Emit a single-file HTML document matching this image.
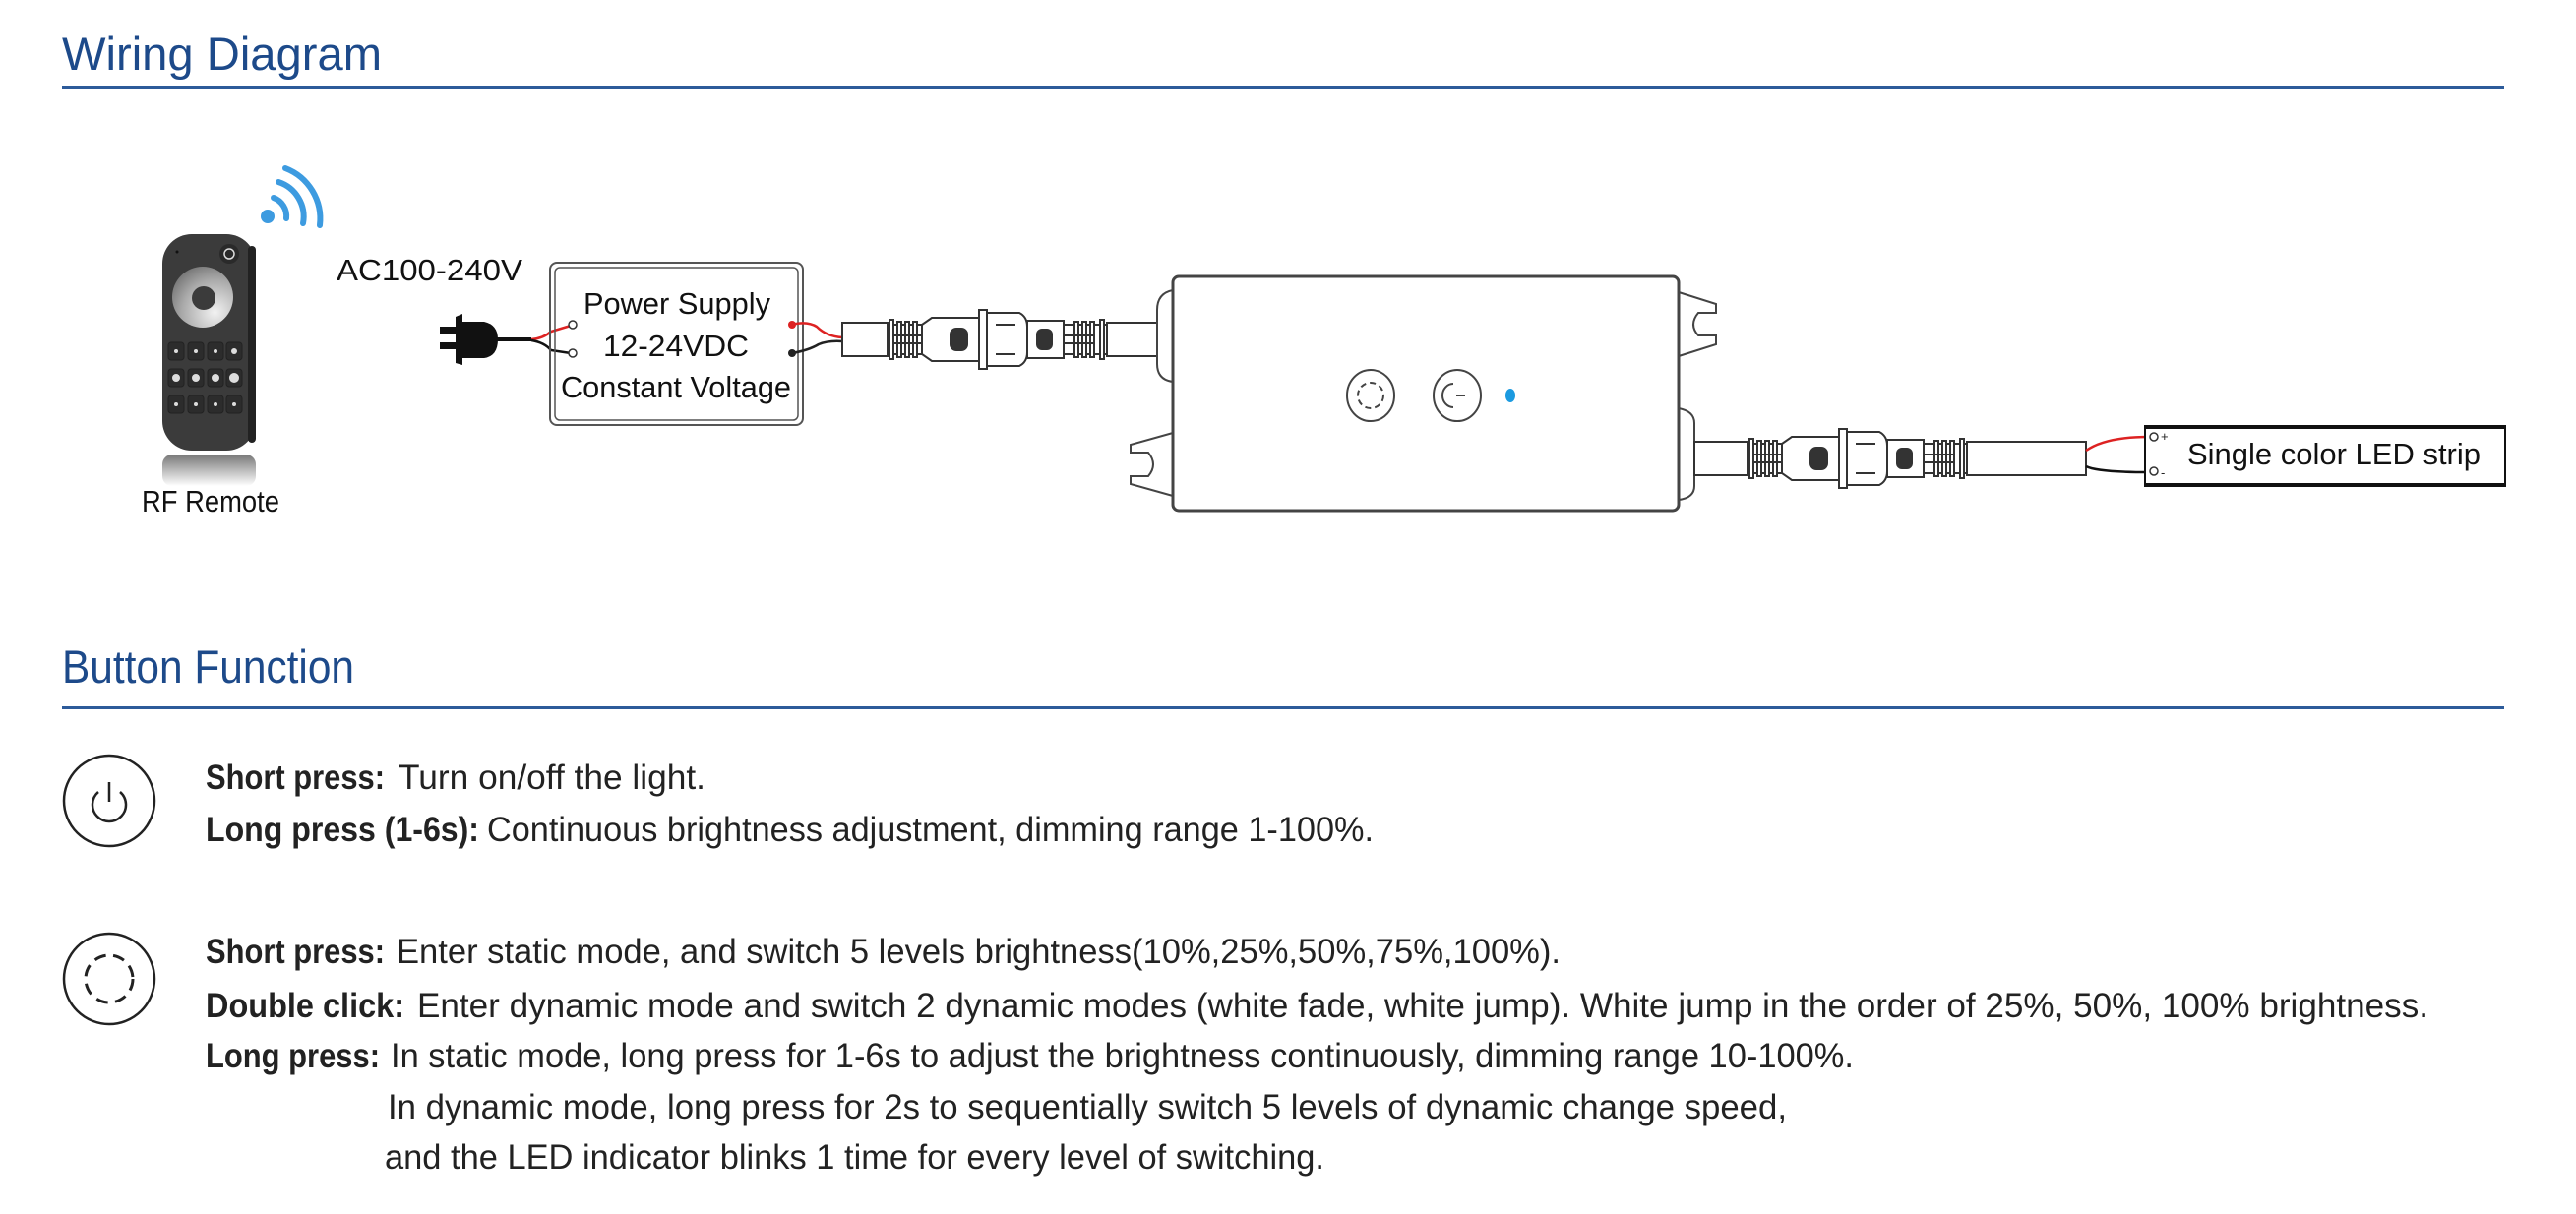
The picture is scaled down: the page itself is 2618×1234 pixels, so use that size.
<!DOCTYPE html>
<html><head><meta charset="utf-8"><style>
html,body{margin:0;padding:0;background:#fff}
svg{display:block}
text{font-family:"Liberation Sans",sans-serif}
</style></head><body>
<svg width="2618" height="1234" viewBox="0 0 2618 1234" xmlns="http://www.w3.org/2000/svg">
<defs>
<radialGradient id="wh" cx="0.7" cy="0.75" r="0.9">
<stop offset="0" stop-color="#f2f2f2"/><stop offset="0.6" stop-color="#a9a9a9"/><stop offset="1" stop-color="#6a6a6a"/>
</radialGradient>
<linearGradient id="refl" x1="0" y1="0" x2="0" y2="1">
<stop offset="0" stop-color="#555"/><stop offset="1" stop-color="#fff"/>
</linearGradient>
<g id="conn" stroke="#333" stroke-width="2" fill="#fff">
<rect x="902" y="330" width="35" height="30"/>
<rect x="904" y="325" width="4" height="40"/>
<rect x="912" y="327" width="4" height="36"/>
<rect x="920" y="327" width="4" height="36"/>
<rect x="928" y="327" width="4" height="36"/>
<line x1="908" y1="341" x2="937" y2="341"/><line x1="908" y1="349" x2="937" y2="349"/>
<path d="M937 330 L947 323 L995 323 L995 367 L947 367 L937 360 Z"/>
<rect x="966" y="334" width="17" height="22" rx="6" fill="#333"/>
<rect x="995" y="315" width="8" height="60"/>
<path d="M1003 318 L1036 318 Q1044 322 1044 332 L1044 358 Q1044 368 1036 372 L1003 372 Z"/>
<line x1="1012" y1="330" x2="1032" y2="330"/><line x1="1012" y1="360" x2="1032" y2="360"/>
<rect x="1044" y="326" width="37" height="38"/>
<rect x="1054" y="335" width="15" height="20" rx="5" fill="#333"/>
<rect x="1081" y="330" width="44" height="30"/>
<rect x="1092" y="327" width="4" height="36"/>
<rect x="1100" y="327" width="4" height="36"/>
<rect x="1108" y="327" width="4" height="36"/>
<rect x="1118" y="325" width="4" height="40"/>
<line x1="1081" y1="341" x2="1112" y2="341"/><line x1="1081" y1="349" x2="1112" y2="349"/>
</g>
</defs>

<!-- Titles -->
<text x="63" y="71" font-size="47" fill="#1d4a8a" textLength="325" lengthAdjust="spacingAndGlyphs">Wiring Diagram</text>
<rect x="63" y="87" width="2482" height="3" fill="#2d5b9a"/>
<text x="63" y="694" font-size="47" fill="#1d4a8a" textLength="297" lengthAdjust="spacingAndGlyphs">Button Function</text>
<rect x="63" y="718" width="2482" height="3" fill="#2d5b9a"/>

<!-- WiFi -->
<circle cx="272" cy="220" r="7" fill="#3d9be0"/>
<g fill="none" stroke="#3d9be0" stroke-width="6" stroke-linecap="round">
<path d="M278 201 A20 20 0 0 1 291 222"/>
<path d="M283 185 A37 37 0 0 1 308 227"/>
<path d="M290 171 A55 55 0 0 1 325 229"/>
</g>

<!-- Remote -->
<rect x="165" y="462" width="95" height="32" fill="url(#refl)" opacity="0.8" rx="10"/>
<rect x="165" y="238" width="95" height="220" rx="30" fill="#3b3b3b"/>
<rect x="252" y="250" width="8" height="200" rx="4" fill="#222"/>
<circle cx="206" cy="302" r="31" fill="url(#wh)"/>
<circle cx="207" cy="303" r="12" fill="#3b3b3b"/>
<circle cx="233" cy="258" r="10" fill="#2a2a2a"/>
<circle cx="233" cy="258" r="5" fill="none" stroke="#ddd" stroke-width="1.5"/>
<circle cx="180" cy="256" r="1.5" fill="#111"/>
<g fill="#2c2c2c" stroke="#222">
<rect x="171" y="348" width="16" height="18" rx="3"/><rect x="191" y="348" width="16" height="18" rx="3"/><rect x="211" y="348" width="16" height="18" rx="3"/><rect x="230" y="348" width="16" height="18" rx="3"/>
<rect x="171" y="375" width="16" height="18" rx="3"/><rect x="191" y="375" width="16" height="18" rx="3"/><rect x="211" y="375" width="16" height="18" rx="3"/><rect x="230" y="375" width="16" height="18" rx="3"/>
<rect x="171" y="402" width="16" height="18" rx="3"/><rect x="191" y="402" width="16" height="18" rx="3"/><rect x="211" y="402" width="16" height="18" rx="3"/><rect x="230" y="402" width="16" height="18" rx="3"/>
</g>
<g fill="#ddd"><circle cx="179" cy="384" r="4"/><circle cx="199" cy="384" r="4"/><circle cx="219" cy="384" r="4"/><circle cx="238" cy="384" r="5"/>
<circle cx="179" cy="357" r="2"/><circle cx="199" cy="357" r="2"/><circle cx="219" cy="357" r="2"/><circle cx="238" cy="357" r="3"/>
<circle cx="179" cy="411" r="2"/><circle cx="199" cy="411" r="2"/><circle cx="219" cy="411" r="2"/><circle cx="238" cy="411" r="2"/></g>
<text x="144" y="520" font-size="31" fill="#111" textLength="140" lengthAdjust="spacingAndGlyphs">RF Remote</text>

<!-- AC label & plug -->
<text x="342" y="285" font-size="31" fill="#111" textLength="189" lengthAdjust="spacingAndGlyphs">AC100-240V</text>
<rect x="447" y="332" width="18" height="7" fill="#111"/>
<rect x="447" y="348" width="18" height="7" fill="#111"/>
<path d="M463 322 L470 319 L470 327 L492 327 Q506 330 506 345 Q506 362 492 364 L470 364 L470 371 L463 369 Z" fill="#111"/>
<path d="M505 345 L540 345" stroke="#111" stroke-width="4"/>
<path d="M540 345 Q552 344 560 337 L580 331" stroke="#d22" stroke-width="2.5" fill="none"/>
<path d="M540 346 Q553 348 560 356 L580 359" stroke="#111" stroke-width="2.5" fill="none"/>

<!-- Power supply -->
<rect x="559" y="267" width="257" height="165" rx="7" fill="none" stroke="#555" stroke-width="2"/>
<rect x="564" y="272" width="247" height="155" rx="5" fill="none" stroke="#555" stroke-width="1.5"/>
<g fill="#fff" stroke="#333" stroke-width="1.5"><circle cx="582" cy="330" r="4"/><circle cx="582" cy="359" r="4"/></g>
<text x="593" y="319" font-size="31" fill="#111" textLength="190" lengthAdjust="spacingAndGlyphs">Power Supply</text>
<text x="613" y="362" font-size="31" fill="#111" textLength="148" lengthAdjust="spacingAndGlyphs">12-24VDC</text>
<text x="570" y="404" font-size="31" fill="#111" textLength="234" lengthAdjust="spacingAndGlyphs">Constant Voltage</text>
<circle cx="805" cy="330" r="4" fill="#d22"/>
<circle cx="805" cy="359" r="4" fill="#222"/>
<path d="M805 330 Q820 326 830 332 Q840 342 856 343" stroke="#d22" stroke-width="2.5" fill="none"/>
<path d="M805 359 Q822 356 832 350 Q842 346 856 347" stroke="#222" stroke-width="2.5" fill="none"/>

<!-- cable 1 -->
<rect x="856" y="328" width="46" height="34" fill="#fff" stroke="#333" stroke-width="2"/>
<use href="#conn"/>
<rect x="1125" y="328" width="58" height="34" fill="#fff" stroke="#333" stroke-width="2"/>

<!-- Controller -->
<g fill="#fff" stroke="#444" stroke-width="2">
<path d="M1192 295 Q1176 298 1176 315 L1176 370 Q1176 386 1192 388 Z"/>
<path d="M1706 297 L1744 309 L1744 318 L1726 318 Q1716 330 1726 341 L1744 341 L1744 350 L1706 362"/>
<path d="M1192 440 L1149 452 L1149 460 L1167 460 Q1177 472 1167 484 L1149 484 L1149 492 L1192 504"/>
<path d="M1706 415 Q1722 418 1722 430 L1722 494 Q1722 506 1706 508 Z"/>
<rect x="1192" y="281" width="514" height="238" rx="6" stroke-width="3"/>
<ellipse cx="1393" cy="402" rx="24" ry="26" stroke-width="2"/>
<circle cx="1393" cy="402" r="13" stroke-dasharray="6 4" stroke-width="2"/>
<ellipse cx="1481" cy="402" rx="24" ry="26" stroke-width="2"/>
<path d="M1477 390 A11 12 0 1 0 1477 414" fill="none"/>
<line x1="1480" y1="402" x2="1489" y2="402"/>
</g>
<ellipse cx="1535" cy="402" rx="5" ry="7" fill="#1b9ae0"/>

<!-- cable 2 -->
<rect x="1722" y="449" width="57" height="34" fill="#fff" stroke="#333" stroke-width="2"/>
<use href="#conn" transform="translate(874,121)"/>
<rect x="1999" y="449" width="121" height="34" fill="#fff" stroke="#333" stroke-width="2"/>
<path d="M2120 458 Q2140 444 2184 444" stroke="#d22" stroke-width="2.5" fill="none"/>
<path d="M2120 474 Q2132 480 2184 480" stroke="#111" stroke-width="2.5" fill="none"/>

<!-- LED strip -->
<rect x="2180" y="433" width="366" height="61" fill="#fff" stroke="#111" stroke-width="2"/>
<rect x="2180" y="432" width="366" height="4" fill="#111"/>
<rect x="2180" y="491" width="366" height="4" fill="#111"/>
<g fill="#fff" stroke="#333" stroke-width="1.5"><circle cx="2189" cy="444" r="4"/><circle cx="2189" cy="479" r="4"/></g>
<text x="2196" y="448" font-size="13" fill="#222">+</text>
<text x="2196" y="485" font-size="13" fill="#222">-</text>
<text x="2223" y="472" font-size="31" fill="#111" textLength="298" lengthAdjust="spacingAndGlyphs">Single color LED strip</text>

<!-- Button icons -->
<g fill="none" stroke="#222" stroke-width="2.5">
<circle cx="111" cy="814" r="46"/>
<path d="M100 805 A17 17 0 1 0 122 805"/>
<line x1="111" y1="795" x2="111" y2="815"/>
<circle cx="111" cy="995" r="46"/>
<circle cx="111" cy="995" r="24" stroke-dasharray="12 7.5" stroke-width="3"/>
</g>

<!-- Body text -->
<g font-size="35" fill="#222">
<text x="209" y="802" font-weight="bold" textLength="182" lengthAdjust="spacingAndGlyphs">Short press:</text>
<text x="405" y="802" textLength="312" lengthAdjust="spacingAndGlyphs">Turn on/off the light.</text>
<text x="209" y="855" font-weight="bold" textLength="278" lengthAdjust="spacingAndGlyphs">Long press (1-6s):</text>
<text x="495" y="855" textLength="901" lengthAdjust="spacingAndGlyphs">Continuous brightness adjustment, dimming range 1-100%.</text>
<text x="209" y="979" font-weight="bold" textLength="182" lengthAdjust="spacingAndGlyphs">Short press:</text>
<text x="403" y="979" textLength="1183" lengthAdjust="spacingAndGlyphs">Enter static mode, and switch 5 levels brightness(10%,25%,50%,75%,100%).</text>
<text x="209" y="1034" font-weight="bold" textLength="202" lengthAdjust="spacingAndGlyphs">Double click:</text>
<text x="424" y="1034" textLength="2044" lengthAdjust="spacingAndGlyphs">Enter dynamic mode and switch 2 dynamic modes (white fade, white jump). White jump in the order of 25%, 50%, 100% brightness.</text>
<text x="209" y="1085" font-weight="bold" textLength="177" lengthAdjust="spacingAndGlyphs">Long press:</text>
<text x="397" y="1085" textLength="1487" lengthAdjust="spacingAndGlyphs">In static mode, long press for 1-6s to adjust the brightness continuously, dimming range 10-100%.</text>
<text x="394" y="1137" textLength="1422" lengthAdjust="spacingAndGlyphs">In dynamic mode, long press for 2s to sequentially switch 5 levels of dynamic change speed,</text>
<text x="391" y="1188" textLength="955" lengthAdjust="spacingAndGlyphs">and the LED indicator blinks 1 time for every level of switching.</text>
</g>
</svg>
</body></html>
